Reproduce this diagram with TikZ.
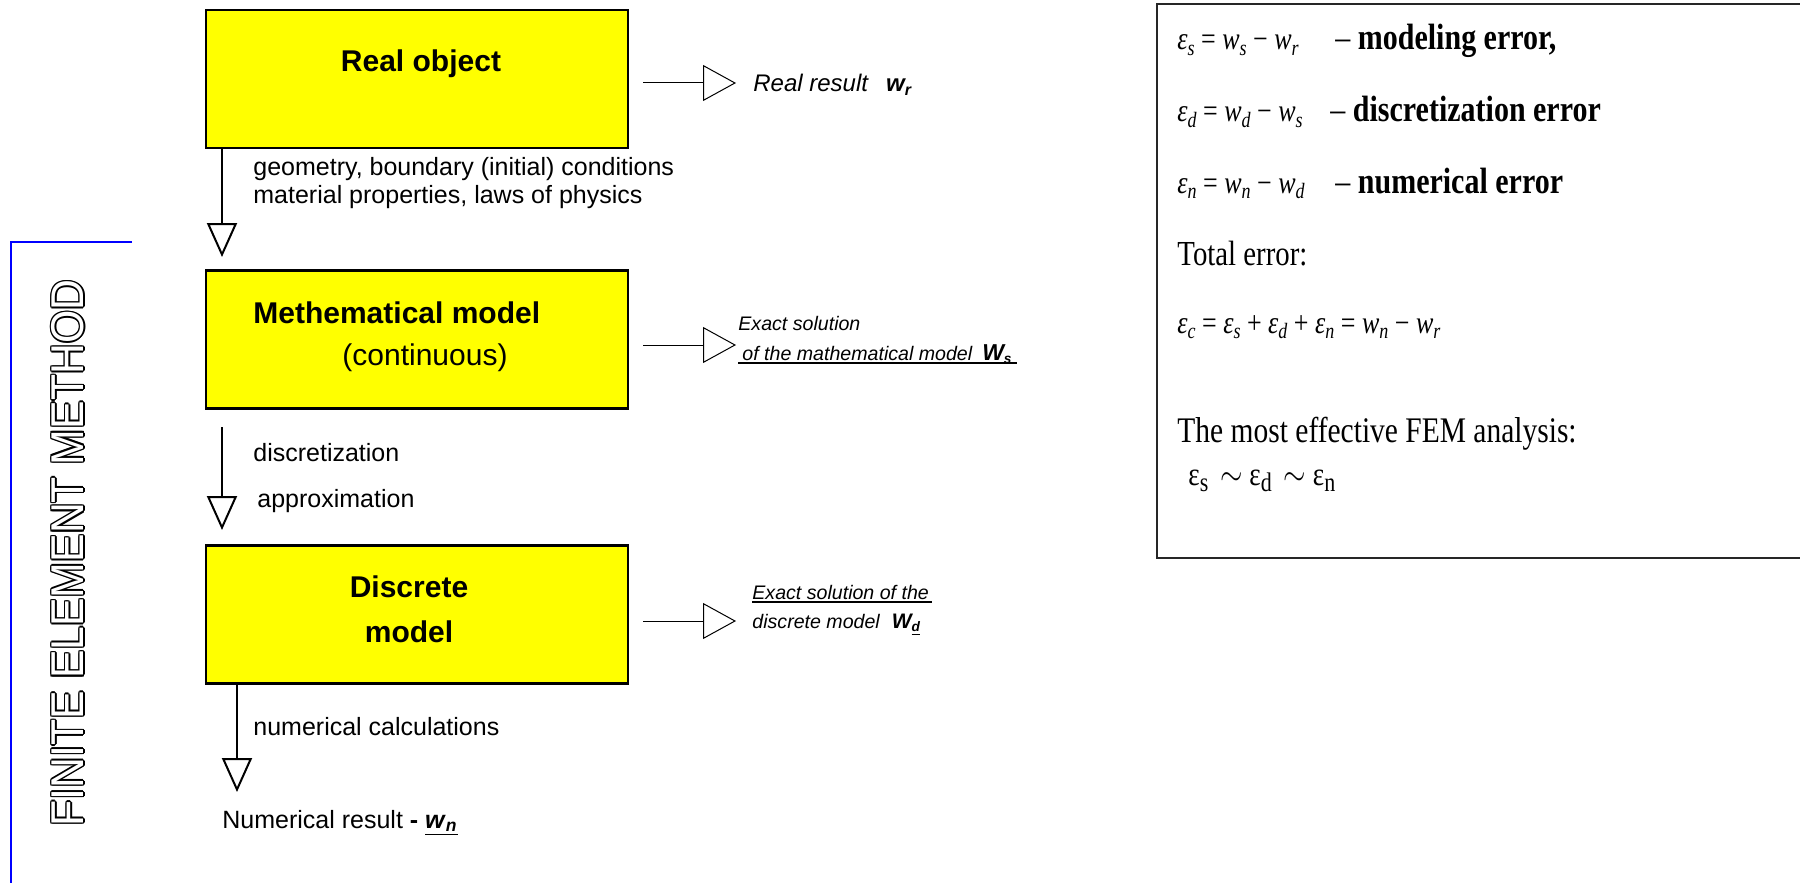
\documentclass[tikz,border=0pt]{standalone}
\usepackage{fontspec}
\usepackage{graphicx}
\setmainfont{Liberation Sans}
\newfontfamily\tms{Liberation Serif}
\usetikzlibrary{arrows.meta,calc}
\definecolor{boxyellow}{RGB}{255,255,0}
\definecolor{pureblue}{RGB}{0,0,255}
\newcommand{\vstr}[1]{\scalebox{1}[1.22]{#1}}
\newcommand{\isub}[1]{\raisebox{-0.35ex}{\fontsize{9}{9}\selectfont\itshape #1}}
\newcommand{\rsub}[1]{\raisebox{-0.4ex}{\fontsize{11}{11}\selectfont #1}}
\newcommand{\femtxt}{\scalebox{0.93}[1]{FINITE ELEMENT METHOD}}
\begin{document}
\begin{tikzpicture}[x=0.5pt,y=-0.5pt,
  ybox/.style={draw=black, line width=1.25pt, fill=boxyellow, minimum width=211pt, minimum height=69pt, inner sep=0pt},
  btitle/.style={inner sep=0pt, anchor=base, font=\fontsize{15}{18}\selectfont\bfseries},
  lbl/.style={inner sep=0pt, anchor=base west, font=\fontsize{12.5}{15}\selectfont},
  darr/.style={line width=1pt, -{Triangle[open, length=17pt, width=15pt]}},
  rarr/.style={line width=0.5pt, -{Triangle[open, length=16.5pt, width=18pt]}},
  smalli/.style={inner sep=0pt, anchor=base west, font=\fontsize{9.8}{12}\selectfont\itshape},
  ser/.style={inner sep=0pt, anchor=base west, font=\tms\fontsize{13}{15}\selectfont},
  serb/.style={inner sep=0pt, anchor=base west, font=\tms\fontsize{15}{18}\selectfont},
  femtext/.style={inner sep=0pt, rotate=90, font=\fontsize{23}{23}\selectfont},
  uline/.style={line width=1.2pt},
  blueline/.style={draw=pureblue, line width=1pt},
  errbox/.style={draw=black!85, line width=1pt}
]
\useasboundingbox (0,0) rectangle (1800,883);

% left bracket and vertical title
\draw[blueline] (132,242) -- (11,242) -- (11,890);
\foreach \ang in {0,45,...,315}{
  \node[femtext, text=black] (femo\ang) at ($(68,553)+(\ang:1.5)$) {\femtxt};
}
\node[femtext, text=white] (fem) at (68,553) {\femtxt};

% yellow boxes
\node[ybox] (box1) at (417,79) {};
\node[ybox] (box2) at (417,339.5) {};
\node[ybox] (box3) at (417,614.5) {};

\node[btitle] (box1t) at (421,72) {Real object};
\node[btitle, anchor=base west] (box2t) at (253,323) {Methematical model};
\node[btitle, font=\fontsize{15}{18}\selectfont] (box2c) at (425,365) {(continuous)};
\node[btitle] (box3a) at (409,597) {Discrete};
\node[btitle] (box3b) at (409,642) {model};

% down arrows
\coordinate (a1e) at (222,257);
\draw[darr] (box1.south west -| a1e) -- (a1e);
\node[lbl] (g1) at (253,176) {geometry, boundary (initial) conditions};
\node[lbl] (g2) at (253,204) {material properties, laws of physics};

\coordinate (a2s) at (222,427);
\coordinate (a2e) at (222,530);
\draw[darr] (a2s) -- (a2e);
\node[lbl] (d1) at (253,461) {discretization};
\node[lbl] (d2) at (257,507) {approximation};

\coordinate (a3e) at (237,792);
\draw[darr] (box3.south west -| a3e) -- (a3e);
\node[lbl] (n1) at (253,735) {numerical calculations};
\node[lbl] (nres) at (222,828) {Numerical result \textbf{-} \underline{\textbf{\textit{w}}\textsubscript{\textbf{\textit{n}}}}};

% right arrows
\coordinate (r1s) at (643,83);
\coordinate (r1e) at (736,83);
\draw[rarr] (r1s) -- (r1e);
\node[lbl, font=\fontsize{12}{14}\selectfont\itshape] (rr) at (753,92) {Real result\hspace{9pt}\textbf{w}\textsubscript{\textbf{r}}};

\coordinate (r2s) at (643,345);
\coordinate (r2e) at (736,345);
\draw[rarr] (r2s) -- (r2e);
\node[smalli] (ex1) at (738,330) {Exact solution};
\node[smalli] (ex2) at (742,360) {of the mathematical model\hspace{5pt}{\fontsize{11.5}{12}\selectfont\bfseries W}\textsubscript{\bfseries s}};
\draw[uline] (738,363) -- (1017,363);

\coordinate (r3s) at (643,621);
\coordinate (r3e) at (736,621);
\draw[rarr] (r3s) -- (r3e);
\node[smalli] (ed1) at (752,599) {Exact solution of the};
\draw[uline] (752,602) -- (932,602);
\node[smalli] (ed2) at (752,628) {discrete model\hspace{6pt}{\fontsize{10.5}{12}\selectfont\bfseries W}\textsubscript{\bfseries\underline{d}}};

% error box
\draw[errbox] (1810,4) -| (1157,558) -- (1810,558);
\node[ser] (e1) at (1177,50) {\vstr{\itshape ε\isub{s} {\upshape =} w\isub{s} {\upshape −} w\isub{r}}};
\node[serb] (e1t) at (1335,50) {\vstr{– \bfseries modeling error,}};
\node[ser] (e2) at (1177,122) {\vstr{\itshape ε\isub{d} {\upshape =} w\isub{d} {\upshape −} w\isub{s}}};
\node[serb] (e2t) at (1330,122) {\vstr{– \bfseries discretization error}};
\node[ser] (e3) at (1177,193) {\vstr{\itshape ε\isub{n} {\upshape =} w\isub{n} {\upshape −} w\isub{d}}};
\node[serb] (e3t) at (1335,193) {\vstr{– \bfseries numerical error}};
\node[serb, font=\tms\fontsize{14.4}{17}\selectfont] (tot) at (1177,265) {\vstr{Total error:}};
\node[ser] (ec) at (1177,333) {\vstr{\itshape ε\isub{c} {\upshape =} ε\isub{s} {\upshape +} ε\isub{d} {\upshape +} ε\isub{n} {\upshape =} w\isub{n} {\upshape −} w\isub{r}}};
\node[serb, font=\tms\fontsize{14.75}{17}\selectfont] (most) at (1177,442) {\vstr{The most effective FEM analysis:}};
\node[ser, font=\tms\fontsize{13.5}{15}\selectfont] (sim) at (1188,485) {\vstr{ε\rsub{s}\hspace{6pt}$\sim$ ε\rsub{d}\hspace{6pt}$\sim$ ε\rsub{n}}};
\end{tikzpicture}
\end{document}
